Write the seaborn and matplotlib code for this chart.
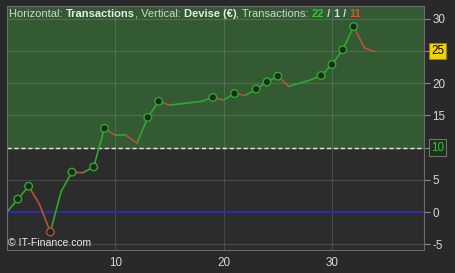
import matplotlib
matplotlib.use("Agg")
import matplotlib.pyplot as plt
import seaborn as sns
import pandas as pd
import numpy as np

# ---- data ----
trade_x = list(range(35))
equity = [0.0, 2.0, 4.0, 1.2, -3.1, 3.2, 6.2, 6.1, 7.0, 13.0, 11.9, 11.9, 10.7,
          14.7, 17.2, 16.6, 16.8, 17.0, 17.2, 17.8, 17.4, 18.4, 18.1, 19.1, 20.2,
          21.1, 19.5, 20.0, 20.5, 21.2, 22.9, 25.2, 28.8, 25.5, 24.9]
marker_idx = [1, 2, 4, 6, 8, 9, 13, 14, 19, 21, 23, 24, 25, 29, 30, 31, 32]
y_ticks = [-5, 0, 5, 10, 15, 20, 25, 30]
x_ticks = [10, 20, 30]
threshold = 10
current_value = 25
n_win, n_even, n_loss = 22, 1, 11

GREEN = "#2fa82f"
RED = "#b8503c"

sns.set_theme(style="dark")
plt.rcParams['font.family'] = ['Liberation Sans', 'DejaVu Sans']

fig = plt.figure(figsize=(4.55, 2.73), dpi=100, facecolor="#29282b")
ax = fig.add_axes([7/455, 23/273, 417/455, 244/273])
ax.set_facecolor("#2c2c2c")

ax.set_xlim(0, 38.5)
ax.set_ylim(-5.9, 32)

# green zone above threshold
ax.axhspan(threshold, 40, color="#335a33", zorder=0)

# grid
for yt in y_ticks:
    ax.axhline(yt, color="white", alpha=0.13, lw=0.8, zorder=1)
for xt in x_ticks:
    ax.axvline(xt, color="white", alpha=0.13, lw=0.8, zorder=1)

# zero line and threshold
ax.axhline(0, color="#2a2ad0", lw=1.1, zorder=2)
ax.axhline(threshold, color="#e8e8e8", lw=1.0, ls=(0, (3, 2)), zorder=2)

# segments colored by direction
rows = []
for i in range(len(trade_x) - 1):
    d = "up" if equity[i + 1] >= equity[i] else "down"
    rows.append(dict(seg=i, x=trade_x[i], y=equity[i], dir=d))
    rows.append(dict(seg=i, x=trade_x[i + 1], y=equity[i + 1], dir=d))
seg_df = pd.DataFrame(rows)
sns.lineplot(data=seg_df, x="x", y="y", hue="dir", units="seg", estimator=None,
             palette={"up": GREEN, "down": RED}, lw=1.2, legend=False, ax=ax,
             zorder=3, sort=False)

mk_df = pd.DataFrame(dict(x=[trade_x[i] for i in marker_idx],
                          y=[equity[i] for i in marker_idx]))
mk_df["edge"] = [RED if equity[i] < equity[i - 1] else GREEN for i in marker_idx]
sns.scatterplot(data=mk_df, x="x", y="y", s=30, color="#1b2b1b",
                edgecolor=mk_df["edge"], linewidth=1.0, ax=ax, zorder=4, legend=False)

# axes styling
ax.set_xlabel("")
ax.set_ylabel("")
ax.yaxis.tick_right()
ax.set_yticks(y_ticks)
ax.set_yticklabels(["" if v in (threshold, current_value) else str(v) for v in y_ticks])
ax.set_xticks(x_ticks)
ax.set_xticklabels([str(v) for v in x_ticks])
ax.tick_params(axis="y", right=True, length=4, width=0.8, color="#8a8a8a",
               labelsize=8.4, labelcolor="#d8d8d8", pad=2)
ax.tick_params(axis="x", bottom=True, length=0, labelsize=8.4,
               labelcolor="#d8d8d8", pad=5)
for sp in ax.spines.values():
    sp.set_visible(True)
    sp.set_color("#6a6a6a")
    sp.set_linewidth(0.8)

# value boxes on the right
blend = ax.get_yaxis_transform()
ax.text(1.017, threshold, str(threshold), transform=blend, ha="left", va="center",
        fontsize=8.4, color="#3fc03f",
        bbox=dict(boxstyle="square,pad=0.2", fc="#1b321b", ec="#707070", lw=0.8),
        clip_on=False)
ax.text(1.017, current_value, str(current_value), transform=blend, ha="left",
        va="center", fontsize=8.4, color="black",
        bbox=dict(boxstyle="square,pad=0.2", fc="#f2d400", ec="#9a8000", lw=0.8),
        clip_on=False)

# rich title text
fig.canvas.draw()
renderer = fig.canvas.get_renderer()
pieces = [("Horizontal: ", "#cfd8cf", "normal"),
          ("Transactions", "#e6ebe6", "bold"),
          (", Vertical: ", "#cfd8cf", "normal"),
          ("Devise (€)", "#e6ebe6", "bold"),
          (", Transactions: ", "#cfd8cf", "normal"),
          (str(n_win), "#3cc03c", "bold"),
          (" / ", "#cfd8cf", "bold"),
          (str(n_even), "#d8d8d8", "bold"),
          (" / ", "#cfd8cf", "bold"),
          (str(n_loss), "#e05038", "bold")]
xpix = 9
ypix = 273 - 14
for s, c, w in pieces:
    t = fig.text(xpix / 455, ypix / 273, s, color=c, fontsize=8.0, fontweight=w,
                 ha="left", va="center")
    bb = t.get_window_extent(renderer)
    xpix += bb.width

fig.text(8 / 455, (273 - 243) / 273, "© IT-Finance.com", color="#e8e8e8",
         fontsize=7.6, ha="left", va="center")

fig.savefig("out.png", dpi=100, facecolor=fig.get_facecolor())
